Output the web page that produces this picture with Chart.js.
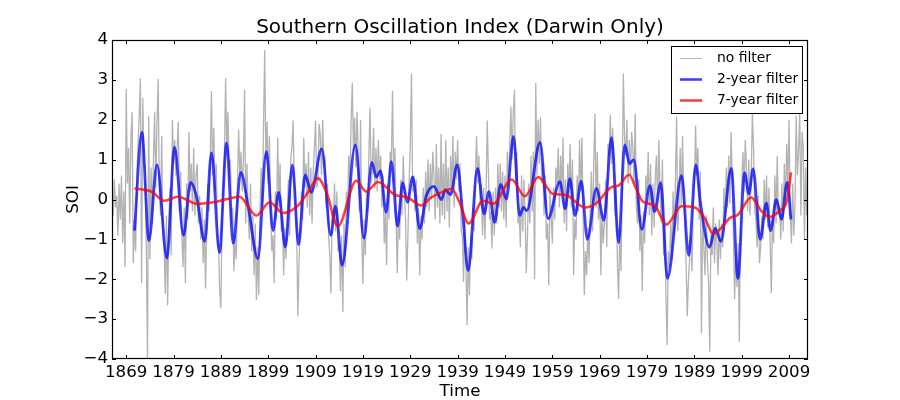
<!DOCTYPE html>
<html>
<head>
<meta charset="utf-8">
<title>Southern Oscillation Index (Darwin Only)</title>
<script src="https://cdn.jsdelivr.net/npm/chart.js@4.4.1/dist/chart.umd.min.js"></script>
<style>
    html, body { margin: 0; padding: 0; background: #fff; }
    #soiChart { display: block; }
</style>
</head>
<body>
<canvas id="soiChart" width="900" height="400"></canvas>
<script>
const FONT = "'DejaVu Sans', 'Liberation Sans', sans-serif";

// raw index ("no filter") at quarter-year spacing
const noFilterStart = 1866;
const noFilterStep = 0.25;
const noFilter = [
    0.3, -0.4, 0.5, -0.2,     0.1, -0.9, 0.4, -0.5,     0.6, -1.1, 0.2, -1.7,     2.77, 0.4, 1.3, -0.6,   // 1866
    1.6, 2.2, -1.6, -0.5,     -1.3, 0.6, 1.4, 2.1,      3.04, -2.1, 2.55, 0.9,    0.8, -1.3, -4.0, 2.1,   // 1870
    -1.5, 0.8, -0.6, 1.0,     2.2, 0.3, 1.9, 3.02,      0.2, -0.4, 1.6, -0.9,     -1.2, -2.37, -0.4, -2.65, // 1874
    -0.6, 0.3, -1.4, 2.0,     0.9, 1.5, 0.6, 1.3,       1.95, -0.3, 0.7, -0.9,    -1.7, -0.2, -2.1, 0.4,  // 1878
    -0.5, 1.7, 0.2, 0.9,      -0.3, 1.3, -0.4, 0.6,     0.9, -0.6, 0.1, -1.0,     -0.2, -1.6, -0.5, -2.23, // 1882
    -0.8, 0.4, -0.3, 1.0,     2.72, 0.6, 1.8, 0.2,      0.9, -0.6, -1.2, -2.3,    -2.73, -0.4, 0.3, 1.1,  // 1886
    3.05, 1.2, 2.2, 0.5,      1.0, -0.6, -0.2, -1.8,    -0.9, -1.5, 0.4, 1.75,    0.6, 1.2, 0.2, 1.0,     // 1890
    2.75, -0.6, 0.9, -0.3,    -1.0, 0.4, -1.3, -0.4,    -1.9, -0.6, -2.52, -1.2,  -2.4, -0.3, 0.8, -0.2,  // 1894
    1.8, 3.75, 1.0, 1.95,     0.4, 1.6, -0.3, -1.3,     -0.9, -2.1, 0.2, -0.5,    1.55, -0.2, 0.9, -0.8,  // 1898
    -0.4, -1.9, -0.7, -1.5,   -0.6, 0.5, -0.9, 1.0,     1.3, 1.98, 0.4, 0.1,      -0.8, -2.93, -1.6, -0.7, // 1902
    0.2, -0.5, 1.55, 0.3,     0.9, -0.2, 1.2, -0.4,     0.8, -0.6, 0.7, 1.3,      1.98, 0.3, 0.5, 1.9,    // 1906
    1.6, 0.6, 2.0, 0.9,       1.0, -0.2, 0.4, -0.9,     -1.4, -2.36, -0.3, -0.6,  0.4, -0.8, 0.2, -1.3,   // 1910
    -1.1, -2.3, -0.9, -2.82,  -0.6, -1.7, 0.2, -0.4,    1.1, 0.3, 2.0, 2.93,      1.2, 2.05, 0.8, 2.2,    // 1914
    1.2, -0.3, 2.0, -0.9,     -2.12, -0.5, -1.4, 0.2,   -0.3, 1.1, 2.3, 0.4,      0.8, 1.8, 0.3, 1.3,     // 1918
    0.2, 1.5, 0.5, 1.1,       -0.2, 0.6, -1.1, -0.3,    -1.65, 0.4, -0.5, 1.2,    0.9, 2.73, 0.4, 1.3,    // 1922
    -0.5, -1.85, -0.3, -1.0,  0.5, -0.4, 1.1, 0.2,      -0.5, -2.03, -0.9, 0.4,   1.4, 3.16, 0.2, 0.6,    // 1926
    -0.3, 0.5, -1.1, -0.2,    -1.9, -0.4, -1.0, 0.3,    -0.6, 0.7, -0.2, 1.0,     -0.3, 0.9, 0.0, 1.2,    // 1930
    0.6, -0.5, 1.4, -0.2,     0.8, -0.6, 1.65, -0.4,    0.9, -0.5, 1.5, -0.3,     0.8, -0.7, 1.1, 0.3,    // 1934
    1.6, -0.2, 1.2, 0.5,      1.5, 0.2, 0.9, -0.8,      -0.9, -2.07, -0.4, -1.6,  -3.15, -1.2, -2.4, -0.9, // 1938
    -1.5, -0.2, -0.8, 0.6,    1.6, 0.4, 1.1, -0.1,      0.4, -0.9, 0.3, -1.0,     0.1, 1.98, 0.7, -0.5,   // 1942
    -0.3, -1.23, 0.2, -0.9,   0.3, -0.6, 0.9, -0.2,     0.9, -0.3, 0.7, -0.5,     0.6, -0.7, 1.2, 0.3,    // 1946
    1.4, 2.33, 1.0, 2.2,      2.75, 0.4, 1.2, -0.6,     -0.3, -1.2, 0.6, -0.8,    0.5, -0.3, -1.85, -0.9, // 1950
    0.4, -0.6, 1.1, -0.3,     1.2, -2.0, 2.92, 0.6,     2.0, 0.9, 2.06, 0.4,      0.9, -0.4, 0.6, -1.0,   // 1954
    -0.6, -2.15, 0.2, -0.4,   -1.1, 0.3, -0.5, 0.8,     0.4, 1.3, -0.2, 1.1,      0.2, 1.55, -0.6, 0.5,   // 1958
    -0.8, 0.9, 0.1, 1.4,      -0.2, 1.0, -1.9, -0.5,    -1.0, 0.6, -0.3, 1.5,     0.2, 1.55, -0.4, -2.4,  // 1962
    -1.3, -1.9, -0.7, -1.6,   -0.3, 0.7, -0.8, 0.9,     2.15, -0.2, 1.2, -0.5,    0.4, -1.9, -0.3, -1.1,  // 1966
    -0.6, 0.5, -1.2, 1.4,     1.1, 2.13, 0.9, 1.8,      0.7, -0.4, 0.3, -1.6,     -2.5, -0.7, -1.8, 0.4,  // 1970
    3.16, 1.6, 1.1, 2.0,      0.4, 1.5, 0.6, 1.7,       1.3, 0.4, 2.15, -0.2,     -0.6, 0.5, -1.3, -0.4,  // 1974
    -2.3, -0.3, -1.1, 0.6,    0.1, 1.2, -0.4, 0.9,      -0.9, 0.4, -0.7, 0.6,     1.1, -0.3, 1.5, 0.2,    // 1978
    -0.6, 1.0, -1.4, -0.5,    -2.4, -3.65, -1.3, -1.7,  -0.6, -1.5, 0.2, -0.9,    0.5, 2.08, -0.8, -0.1,  // 1982
    1.3, -0.2, 1.6, 0.1,      -0.5, -1.6, -2.93, -2.0,  -1.5, -0.9, -1.8, -0.2,   0.3, 1.85, 0.6, 1.3,    // 1986
    -0.5, 0.7, -3.36, -0.3,   -1.2, -1.9, -0.4, -1.5,   -2.1, -3.82, -0.8, -1.4,  -0.2, -1.6, -0.6, -1.1, // 1990
    -1.9, -0.5, -1.5, -0.6,   -1.2, 0.3, -0.6, 0.8,     -0.2, 1.1, -0.1, 1.7,     0.5, -0.9, -2.5, -1.3,  // 1994
    -2.2, -1.1, -3.57, -0.4,  0.3, 1.2, 0.2, 1.5,       0.8, -0.3, 1.0, -0.4,     0.5, 2.15, 1.3, -0.3,   // 1998
    -0.5, -1.2, 0.1, -1.6,    -1.2, -0.4, -1.0, 0.5,    -0.5, 0.6, -0.7, 0.3,     -1.0, -2.35, -0.4, -1.1, // 2002
    0.6, -0.6, 1.1, -0.3,     -0.2, -1.0, 0.4, -0.8,    0.9, -0.2, 1.4, 0.3,      2.0, -0.3, -1.1, 0.4,   // 2006
    -0.9, -0.1, 2.1, 0.6,     1.2, 2.2, -0.4, 1.7,      1.3, -1.0, 0.8, -0.4                              // 2010
];

// 2-year filter, turning points
const twoYearYears = [
    1870.75, 1872.3, 1873.8, 1875.5, 1877.6, 1879.2, 1881.1, 1882.6, 1883.8, 1885.6,
    1887.0, 1888.7, 1890.2, 1891.6, 1893.2, 1894.8, 1896.8, 1898.6, 1900.0, 1901.2,
    1902.6, 1904.1, 1905.4, 1906.8, 1908.1, 1910.3, 1912.2, 1913.2, 1914.6, 1917.4,
    1919.2, 1920.9, 1921.8, 1922.7, 1923.9, 1925.0, 1926.3, 1927.4, 1928.4, 1929.5,
    1931.0, 1932.4, 1934.0, 1935.6, 1936.4, 1937.5, 1938.9, 1940.1, 1941.2, 1943.2,
    1944.6, 1945.6, 1946.8, 1948.1, 1949.3, 1950.8, 1952.1, 1952.9, 1953.6, 1956.4,
    1958.1, 1960.6, 1961.7, 1962.7, 1963.8, 1965.1, 1966.4, 1968.3, 1969.9, 1971.5,
    1973.0, 1974.3, 1975.3, 1976.2, 1977.9, 1979.6, 1980.6, 1981.9, 1983.3, 1986.3,
    1987.8, 1989.3, 1990.3, 1992.2, 1993.4, 1994.6, 1996.8, 1998.2, 1999.6, 2000.5,
    2001.4, 2002.9, 2004.2, 2005.1, 2006.3, 2007.4, 2008.6, 2009.4
];
const twoYearValues = [
    -0.78, 1.68, -1.03, 0.87, -1.47, 1.31, -0.9, 0.43, 0.1, -1.05,
    1.17, -1.33, 1.42, -1.1, 0.68, -0.2, -1.48, 1.2, -0.78, 0.18,
    -1.19, 0.87, -1.13, 0.62, 0.18, 1.27, -0.9, -0.17, -1.65, 1.37,
    -0.97, 0.93, 0.56, 0.72, -0.32, 0.95, -0.67, 0.42, -0.07, 0.56,
    -0.73, 0.1, 0.33, 0.0, 0.25, 0.12, 0.87, -0.4, -1.78, 0.78,
    -0.36, 0.2, -0.57, 0.38, 0.01, 1.58, -0.4, -0.2, -0.28, 1.43,
    -0.48, 0.45, -0.23, 0.52, -0.4, 0.46, -1.0, 0.28, -0.52, 1.55,
    -1.08, 1.37, 0.9, 1.0, -0.75, 0.35, -0.3, 0.42, -1.98, 0.6,
    -1.4, 0.87, -0.1, -1.2, -0.72, -1.05, 0.78, -1.98, 0.67, 0.14,
    0.77, -1.0, -0.09, -0.78, 0.0, -0.5, 0.43, -0.5
];

// 7-year filter
const sevenYearYears = [
    1870.75, 1872.5, 1874.3, 1877.1, 1879.9, 1884.1, 1888.3, 1892.9, 1896.5, 1899.3,
    1902.1, 1905.3, 1907.4, 1909.5, 1911.3, 1913.7, 1917.6, 1919.7, 1922.2, 1925.7,
    1928.5, 1931.3, 1933.4, 1935.6, 1937.7, 1939.4, 1941.3, 1944.4, 1946.5, 1950.4,
    1953.2, 1956.0, 1959.2, 1961.7, 1965.9, 1968.2, 1971.5, 1973.0, 1975.2, 1976.7,
    1978.1, 1980.6, 1983.1, 1986.3, 1989.1, 1991.2, 1993.0, 1995.0, 1996.4, 1998.2,
    2001.0, 2003.1, 2004.9, 2007.0, 2008.6, 2009.4
];
const sevenYearValues = [
    0.28, 0.25, 0.2, -0.03, 0.07, -0.11, -0.05, 0.07, -0.4, -0.07,
    -0.34, -0.15, 0.18, 0.53, 0.18, -0.67, 0.47, 0.2, 0.44, 0.12,
    0.05, -0.15, 0.05, 0.18, 0.27, -0.07, -0.6, -0.03, -0.11, 0.5,
    0.08, 0.56, 0.14, 0.12, -0.2, -0.1, 0.31, 0.35, 0.62, 0.27,
    -0.05, -0.15, -0.63, -0.17, -0.2, -0.47, -0.86, -0.67, -0.47, -0.38,
    0.05, -0.28, -0.44, -0.28, 0.0, 0.68
];

const timeTicks = [1869, 1879, 1889, 1899, 1909, 1919, 1929, 1939, 1949, 1959, 1969, 1979, 1989, 1999, 2009];
const soiTicks = [-4, -3, -2, -1, 0, 1, 2, 3, 4];

function toPoints(xs, ys) {
    return ys.map((y, i) => ({ x: xs[i], y }));
}

// title, axis labels, inward ticks on all four sides, frame and legend box
const framePlugin = {
    id: "frame",
    afterDraw(chart) {
        const { ctx, chartArea: a, scales } = chart;
        ctx.save();
        ctx.strokeStyle = "#000";
        ctx.lineWidth = 1;

        ctx.beginPath();
        scales.x.ticks.forEach((t) => {
            const px = Math.round(scales.x.getPixelForValue(t.value)) + 0.5;
            ctx.moveTo(px, a.bottom);
            ctx.lineTo(px, a.bottom - 4);
            ctx.moveTo(px, a.top);
            ctx.lineTo(px, a.top + 4);
        });
        scales.y.ticks.forEach((t) => {
            const py = Math.round(scales.y.getPixelForValue(t.value)) + 0.5;
            ctx.moveTo(a.left, py);
            ctx.lineTo(a.left + 4, py);
            ctx.moveTo(a.right, py);
            ctx.lineTo(a.right - 4, py);
        });
        ctx.stroke();
        ctx.lineWidth = 1.2;
        ctx.strokeRect(a.left + 0.5, a.top + 0.5, a.right - a.left - 1, a.bottom - a.top - 1);
        ctx.lineWidth = 1;

        ctx.fillStyle = "#000";
        ctx.textAlign = "center";
        ctx.textBaseline = "alphabetic";
        ctx.font = "20px " + FONT;
        ctx.fillText("Southern Oscillation Index (Darwin Only)", (a.left + a.right) / 2, 33);

        ctx.font = "16.67px " + FONT;
        ctx.fillText("Time", (a.left + a.right) / 2, 396);
        ctx.save();
        ctx.translate(78, (a.top + a.bottom) / 2);
        ctx.rotate(-Math.PI / 2);
        ctx.fillText("SOI", 0, 0);
        ctx.restore();

        // legend
        const box = { x: 671.5, y: 46.5, w: 131, h: 67 };
        ctx.fillStyle = "#fff";
        ctx.fillRect(box.x, box.y, box.w, box.h);
        ctx.strokeRect(box.x, box.y, box.w, box.h);
        ctx.font = "13.9px " + FONT;
        ctx.textAlign = "left";
        ctx.textBaseline = "middle";
        const rows = [58.5, 79.5, 100.5];
        [2, 1, 0].forEach((di, r) => {
            const ds = chart.data.datasets[di];
            ctx.strokeStyle = ds.borderColor;
            ctx.lineWidth = ds.legendWidth;
            ctx.beginPath();
            ctx.moveTo(680, rows[r]);
            ctx.lineTo(702, rows[r]);
            ctx.stroke();
            ctx.fillStyle = "#000";
            ctx.fillText(ds.label, 717, rows[r]);
        });
        ctx.restore();
    },
};

Chart.defaults.font.family = FONT;
Chart.defaults.font.size = 16.67;
Chart.defaults.color = "#000";

const ctx = document.getElementById("soiChart").getContext("2d");
new Chart(ctx, {
    type: "line",
    data: {
        datasets: [
            {
                label: "7-year filter",
                data: toPoints(sevenYearYears, sevenYearValues),
                borderColor: "rgba(255, 0, 0, 0.75)",
                borderWidth: 2.6,
                legendWidth: 2.6,
                cubicInterpolationMode: "monotone",
                pointRadius: 0,
                order: 1,
            },
            {
                label: "2-year filter",
                data: toPoints(twoYearYears, twoYearValues),
                borderColor: "rgba(0, 0, 255, 0.75)",
                borderWidth: 2.8,
                legendWidth: 2.6,
                cubicInterpolationMode: "monotone",
                pointRadius: 0,
                order: 2,
            },
            {
                label: "no filter",
                data: noFilter.map((v, i) => ({ x: noFilterStart + i * noFilterStep, y: v })),
                borderColor: "#b3b3b3",
                borderWidth: 1.3,
                legendWidth: 1,
                tension: 0,
                pointRadius: 0,
                order: 3,
            },
        ],
    },
    options: {
        responsive: false,
        animation: false,
        devicePixelRatio: 1,
        layout: { padding: { left: 0, right: 92, top: 40, bottom: 0 } },
        plugins: {
            legend: { display: false },
            title: { display: false },
            tooltip: { enabled: false },
        },
        scales: {
            x: {
                type: "linear",
                min: 1866,
                max: 2013,
                afterFit(scale) { scale.height = 41; },
                afterBuildTicks(scale) { scale.ticks = timeTicks.map((v) => ({ value: v })); },
                grid: { display: false, drawTicks: false },
                border: { display: false },
                ticks: { autoSkip: false, maxRotation: 0, padding: 4, callback: (v) => String(v) },
            },
            y: {
                min: -4,
                max: 4,
                afterFit(scale) { scale.width = 112; },
                afterBuildTicks(scale) { scale.ticks = soiTicks.map((v) => ({ value: v })); },
                grid: { display: false, drawTicks: false },
                border: { display: false },
                ticks: { padding: 4, callback: (v) => (v < 0 ? "\u2212" + Math.abs(v) : String(v)) },
            },
        },
    },
    plugins: [framePlugin],
});
</script>
</body>
</html>
